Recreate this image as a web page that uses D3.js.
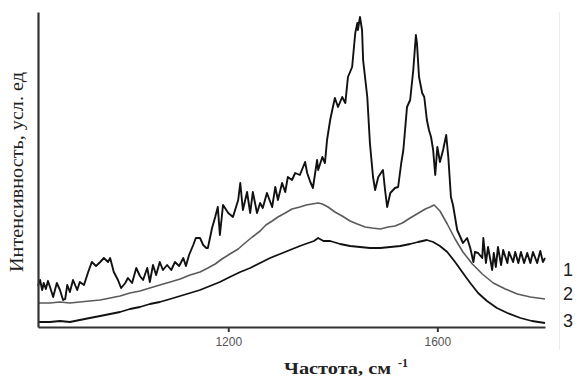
<!DOCTYPE html>
<html>
<head>
<meta charset="utf-8">
<script src="https://cdn.jsdelivr.net/npm/d3@7"></script>
<style>
  html, body { margin: 0; padding: 0; background: #fff; }
  svg { display: block; }
</style>
</head>
<body>
<svg id="chart" width="580" height="377"></svg>
<script>
// Raman spectra, three samples: frequency (cm^-1) and intensity (arb. units)
const freq1 = [836,840,844,847,851,855,859,865,872,878,884,888,892,897,903,911,916,924,932,939,947,955,962,970,974,981,989,995,1003,1008,1016,1024,1031,1037,1045,1050,1056,1062,1069,1075,1083,1091,1098,1106,1114,1119,1125,1133,1138,1146,1152,1158,1161,1169,1175,1180,1184,1190,1200,1209,1219,1223,1228,1236,1242,1247,1255,1261,1266,1274,1284,1290,1295,1303,1309,1314,1322,1328,1337,1347,1351,1357,1362,1370,1372,1380,1385,1389,1395,1399,1404,1410,1418,1424,1429,1437,1443,1447,1448,1452,1456,1458,1466,1471,1477,1481,1487,1496,1500,1504,1510,1519,1525,1531,1535,1542,1548,1554,1559,1561,1565,1571,1575,1580,1584,1588,1592,1596,1600,1605,1611,1617,1621,1626,1630,1638,1644,1649,1657,1663,1669,1672,1678,1686,1688,1693,1697,1705,1708,1712,1716,1722,1726,1734,1737,1745,1749,1755,1760,1766,1772,1778,1783,1791,1797,1802,1806];
const int1 = [41,47,37,44,38,46,40,30,44,37,27,28,42,35,47,37,45,42,55,65,61,65,69,65,69,55,47,39,44,49,44,59,51,47,59,45,62,52,65,57,62,57,65,61,69,61,72,82,89,89,82,79,79,99,110,120,92,122,114,110,127,144,117,135,114,135,114,124,119,134,120,140,127,144,135,150,147,154,152,165,154,145,139,167,157,170,164,187,207,217,229,220,230,224,250,260,294,304,297,310,297,267,230,184,150,137,150,157,137,120,134,139,140,164,177,220,227,257,292,284,250,234,230,207,197,190,177,152,180,165,177,192,170,130,122,97,90,84,89,79,65,75,74,69,89,64,80,57,74,60,80,62,77,64,75,65,75,64,75,64,74,64,75,64,76,65,69];

const freq2 = [836,859,878,897,916,935,955,974,993,1012,1031,1050,1069,1089,1108,1127,1146,1161,1175,1188,1203,1219,1232,1246,1261,1272,1284,1295,1309,1322,1337,1349,1360,1372,1380,1391,1404,1418,1433,1447,1462,1475,1491,1506,1519,1533,1548,1561,1577,1586,1594,1605,1619,1634,1649,1667,1686,1707,1730,1753,1778,1806];
const int2 = [24,24,25,24,25,26,27,29,31,34,36,39,42,45,48,52,55,59,63,68,73,78,84,90,96,102,106,110,114,118,120,122,123,124,123,120,115,111,106,103,100,99,98,100,101,104,109,113,118,120,122,116,103,88,75,63,53,44,38,33,30,28];

const freq3 = [836,859,878,897,916,935,955,974,993,1012,1031,1050,1069,1089,1108,1127,1146,1165,1184,1203,1223,1242,1261,1280,1299,1318,1337,1353,1364,1372,1382,1395,1414,1433,1452,1471,1491,1510,1529,1548,1563,1580,1592,1605,1619,1634,1649,1663,1678,1695,1714,1734,1759,1781,1806];
const int3 = [5,5,6,5,7,9,11,13,15,18,20,23,25,28,31,34,37,41,45,50,55,59,64,69,73,77,81,84,86,89,86,86,83,81,80,79,79,80,81,83,85,87,85,81,75,65,54,44,34,26,19,14,9,6,4];

const tickValues = [1200, 1600];
const seriesLabels = ["1", "2", "3"];
const labelLevels = [58, 34, 7];   // intensity level beside which each curve number sits

const svg = d3.select("#chart");

// plot frame
const plotLeft = 38, plotRight = 545, plotTop = 12, plotBottom = 327;

const x = d3.scaleLinear().domain([836, 1806]).range([plotLeft, plotRight]);
const y = d3.scaleLinear().domain([0, 315]).range([plotBottom, plotTop]);

const line = d3.line().x(d => x(d[0])).y(d => y(d[1]));

// thin separator at the right edge
svg.append("line")
  .attr("x1", 559.5).attr("x2", 559.5)
  .attr("y1", 12).attr("y2", 350)
  .attr("stroke", "#ececec").attr("stroke-width", 1);

// curves
const series = [
  { f: freq1, v: int1, color: "#111", w: 1.9 },
  { f: freq2, v: int2, color: "#5a5a5a", w: 1.6 },
  { f: freq3, v: int3, color: "#111", w: 1.8 }
];
series.forEach(s => {
  svg.append("path")
    .datum(s.f.map((f, i) => [f, s.v[i]]))
    .attr("fill", "none")
    .attr("stroke", s.color)
    .attr("stroke-width", s.w)
    .attr("stroke-linejoin", "round")
    .attr("d", line);
});

// x axis
const xAxis = svg.append("g")
  .attr("transform", `translate(0,${plotBottom})`)
  .call(d3.axisBottom(x).tickValues(tickValues).tickSize(5).tickSizeOuter(0).tickFormat(d3.format("d")));
xAxis.select(".domain").attr("stroke", "#333").attr("stroke-width", 2.2);
xAxis.selectAll(".tick line").attr("stroke", "#333").attr("stroke-width", 2);
xAxis.selectAll(".tick text")
  .attr("fill", "#555")
  .attr("font-family", "Liberation Sans, Arial, sans-serif")
  .attr("font-size", 12)
  .attr("dy", "0.95em");

// y axis (line only)
const yAxis = svg.append("g")
  .attr("transform", `translate(${plotLeft},0)`)
  .call(d3.axisLeft(y).tickValues([]).tickSizeOuter(0));
yAxis.select(".domain").attr("stroke", "#333").attr("stroke-width", 2.2);

// axis titles
svg.append("text")
  .attr("transform", "translate(23,172) rotate(-90)")
  .attr("text-anchor", "middle")
  .attr("font-family", "Liberation Serif, Times New Roman, serif")
  .attr("font-size", 18)
  .attr("fill", "#222")
  .attr("textLength", 200)
  .attr("lengthAdjust", "spacingAndGlyphs")
  .text("Интенсивность, усл. ед");

const xt = svg.append("text")
  .attr("x", 284).attr("y", 374)
  .attr("font-family", "Liberation Serif, Times New Roman, serif")
  .attr("font-size", 16)
  .attr("font-weight", "bold")
  .attr("fill", "#222");
xt.append("tspan").attr("textLength", 107).attr("lengthAdjust", "spacingAndGlyphs").text("Частота, см");
xt.append("tspan").attr("x", 398).attr("y", 367).attr("font-size", 12).text("-1");

// curve numbers
svg.selectAll("text.lbl")
  .data(seriesLabels)
  .enter().append("text")
  .attr("class", "lbl")
  .attr("x", 563)
  .attr("y", (d, i) => y(labelLevels[i]) + 7)
  .attr("font-family", "Liberation Sans, Arial, sans-serif")
  .attr("font-size", 18)
  .attr("fill", "#222")
  .text(d => d);
</script>
</body>
</html>
